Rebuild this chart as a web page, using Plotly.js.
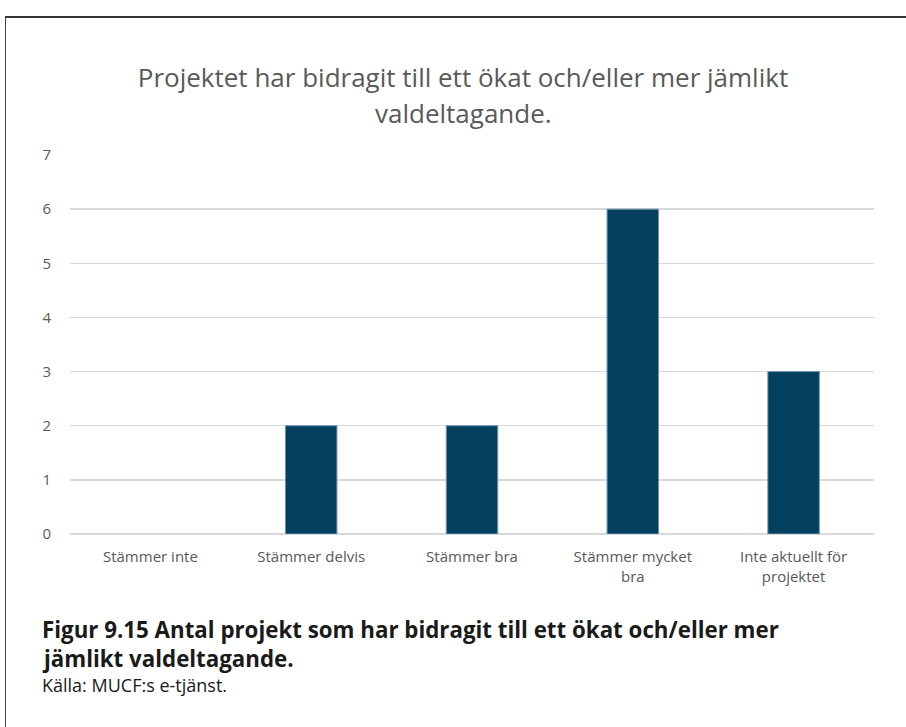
<!DOCTYPE html>
<html>
<head>
<meta charset="utf-8">
<script src="https://cdn.plot.ly/plotly-3.0.1.min.js"></script>
<style>
html,body{margin:0;padding:0;background:#fff;}
#wrap{position:relative;width:906px;height:727px;overflow:hidden;}
#frame{position:absolute;left:5px;top:16px;width:920px;height:730px;border-top:2px solid #333;border-left:1px solid #444;box-sizing:border-box;}
#chart{position:absolute;left:0;top:0;width:906px;height:727px;}
</style>
</head>
<body>
<div id="wrap">
<div id="chart"></div>
<div id="frame"></div>
</div>
<script>
const categories = ["Stämmer inte", "Stämmer delvis", "Stämmer bra", "Stämmer mycket<br>bra", "Inte aktuellt för<br>projektet"];
const values = [0, 2, 2, 6, 3];
const yTicks = [0, 1, 2, 3, 4, 5, 6, 7];
const titleLine1 = "Projektet har bidragit till ett ökat och/eller mer jämlikt";
const titleLine2 = "valdeltagande.";
const captionLine1 = "Figur 9.15 Antal projekt som har bidragit till ett ökat och/eller mer";
const captionLine2 = "jämlikt valdeltagande.";
const captionSource = "Källa: MUCF:s e-tjänst.";

const W = 906, H = 727;
const margin = {l: 70, r: 32, t: 155, b: 193};
const plotH = H - margin.t - margin.b;
const plotW = W - margin.l - margin.r;
const px = x => (x - margin.l) / plotW;
const py = y => (H - margin.b - y) / plotH;

const trace = {
  type: "bar",
  x: categories,
  y: values,
  marker: {color: "#03405F", line: {color: "#6f93ad", width: values.map(v => v > 0 ? 1 : 0)}},
  width: 0.32,
  hoverinfo: "x+y"
};

const capFont = {family: "Open Sans, sans-serif", size: 22.3, color: "#1a1a1a"};

const layout = {
  width: W, height: H,
  margin: margin,
  paper_bgcolor: "#fff",
  plot_bgcolor: "#fff",
  showlegend: false,
  font: {family: "Open Sans, sans-serif", color: "#595959"},
  title: {
    text: titleLine1,
    font: {family: "Open Sans, sans-serif", size: 26, color: "#595959"},
    x: 0.511, xanchor: "center",
    y: 1 - 78 / H, yanchor: "middle", yref: "container"
  },
  xaxis: {
    type: "category",
    tickfont: {size: 15, color: "#595959"},
    showgrid: false,
    showline: false,
    ticks: "",
    ticklabelstandoff: 12
  },
  yaxis: {
    range: [0, 7],
    tickvals: yTicks,
    tickfont: {size: 15, color: "#595959"},
    gridcolor: "#d9d9d9",
    gridwidth: 1.5,
    zeroline: true,
    zerolinecolor: "#d9d9d9",
    zerolinewidth: 1.5,
    showline: false,
    ticks: "",
    ticklabelstandoff: 18
  },
  annotations: [
    {
      text: titleLine2,
      xref: "paper", yref: "paper",
      x: px(463), y: py(113),
      xanchor: "center", yanchor: "middle",
      showarrow: false,
      font: {family: "Open Sans, sans-serif", size: 26, color: "#595959"}
    },
    {
      text: "<b>" + captionLine1 + "</b>",
      xref: "paper", yref: "paper",
      x: px(40), y: py(629),
      xanchor: "left", yanchor: "middle", align: "left",
      showarrow: false,
      font: capFont
    },
    {
      text: "<b>" + captionLine2 + "</b>",
      xref: "paper", yref: "paper",
      x: px(40), y: py(658),
      xanchor: "left", yanchor: "middle", align: "left",
      showarrow: false,
      font: capFont
    },
    {
      text: captionSource,
      xref: "paper", yref: "paper",
      x: px(40), y: py(685),
      xanchor: "left", yanchor: "middle", align: "left",
      showarrow: false,
      font: {family: "Open Sans, sans-serif", size: 18, color: "#1a1a1a"}
    }
  ]
};

Plotly.newPlot("chart", [trace], layout, {displayModeBar: false, staticPlot: true});
</script>
</body>
</html>
